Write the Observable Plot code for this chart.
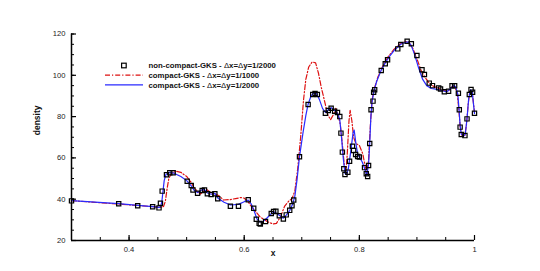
<!DOCTYPE html>
<html>
<head>
<meta charset="utf-8">
<script src="https://cdn.jsdelivr.net/npm/d3@7"></script>
<script src="https://cdn.jsdelivr.net/npm/@observablehq/plot@0.6"></script>
<style>
  html, body { margin: 0; padding: 0; background: #fff; }
  #wrap { position: relative; width: 540px; height: 271px; font-family: "Liberation Sans", Arial, sans-serif; }
  #legend { position: absolute; left: 0; top: 0; pointer-events: none; }
</style>
</head>
<body>
<div id="wrap"></div>
<script>
// ---- data ----
const squaresX = [0.300,0.382,0.415,0.441,0.452,0.4545,0.4575,0.465,0.4707,0.4766,0.501,0.508,0.511,0.519,0.527,0.531,0.536,0.5425,0.549,0.554,0.576,0.590,0.607,0.6165,0.621,0.626,0.628,0.637,0.647,0.651,0.655,0.661,0.668,0.673,0.679,0.683,0.686,0.696,0.711,0.719,0.723,0.727,0.741,0.746,0.751,0.757,0.762,0.766,0.768,0.7705,0.773,0.775,0.780,0.783,0.788,0.790,0.7935,0.797,0.800,0.809,0.812,0.8144,0.816,0.818,0.8203,0.8237,0.8248,0.8266,0.838,0.845,0.849,0.8667,0.872,0.883,0.8903,0.900,0.9088,0.913,0.9214,0.927,0.9378,0.941,0.9476,0.955,0.961,0.9655,0.972,0.9736,0.975,0.977,0.9834,0.987,0.991,0.994,0.9967,1.000];
const squaresY = [39.2,37.8,36.8,36.3,35.8,38.0,43.9,51.8,52.8,52.8,48.7,46.6,44.5,42.9,44.2,44.5,42.6,42.3,42.6,40.2,36.6,36.6,39.7,35.6,30.3,28.3,28.0,29.2,33.1,34.0,34.2,32.0,30.4,32.4,34.6,36.8,39.6,60.6,85.9,90.7,91.2,90.7,81.6,83.0,84.0,82.6,82.0,80.0,72.0,62.8,54.7,52.0,53.1,58.4,65.6,63.6,61.6,60.7,60.4,55.3,52.3,51.0,56.3,67.0,83.3,87.5,91.8,93.0,102.3,105.6,107.5,112.8,114.9,116.5,115.3,109.6,102.7,100.4,96.2,95.0,93.9,93.4,92.0,92.3,94.9,94.9,91.3,83.3,74.9,71.3,70.8,78.9,90.7,93.1,91.8,81.6];

const blueX = [0.300,0.382,0.415,0.441,0.452,0.455,0.457,0.459,0.461,0.464,0.470,0.478,0.490,0.500,0.508,0.513,0.519,0.526,0.531,0.536,0.543,0.549,0.555,0.565,0.576,0.590,0.600,0.607,0.612,0.617,0.622,0.627,0.633,0.640,0.647,0.652,0.657,0.661,0.668,0.673,0.679,0.684,0.688,0.692,0.696,0.702,0.707,0.711,0.716,0.721,0.726,0.731,0.736,0.741,0.746,0.751,0.757,0.762,0.766,0.769,0.772,0.775,0.778,0.781,0.785,0.789,0.791,0.794,0.797,0.800,0.805,0.809,0.813,0.816,0.818,0.820,0.822,0.825,0.830,0.838,0.845,0.852,0.862,0.872,0.880,0.885,0.890,0.896,0.903,0.910,0.917,0.925,0.935,0.945,0.952,0.958,0.963,0.967,0.971,0.973,0.975,0.977,0.981,0.984,0.987,0.990,0.993,0.996,1.000];
const blueY = [39.3,37.9,37.0,36.4,36.0,36.5,39,44,49,52,53.0,52.6,51.0,49.0,46.5,44.3,43.2,44.5,44.6,43.0,42.4,42.8,40.3,38.5,37.2,37.5,38.8,39.6,37.8,34.5,30.5,29.0,29.3,31.0,33.0,33.8,33.0,32.2,30.8,32.3,34.5,37.5,41.5,50,60.5,72,80.5,86,90,91.5,91,88,84,82,83.3,84.3,83,81.5,78.5,70,60,52.5,52,55,63,72,73.5,67,62,60.5,58,55,51.5,57,67,80,87,92,97,102.5,106,109,112.5,115,116,116.2,114.5,110,103.5,98,95,93.6,93.2,92.5,92.0,93.5,95.0,94.5,91,84,76,71.5,70.5,71.5,79,89,93,92,81.5];

const redX = [0.300,0.441,0.455,0.460,0.463,0.466,0.469,0.474,0.482,0.490,0.500,0.507,0.512,0.518,0.524,0.530,0.536,0.543,0.550,0.557,0.564,0.575,0.585,0.594,0.600,0.605,0.611,0.617,0.628,0.642,0.650,0.656,0.663,0.670,0.677,0.683,0.688,0.693,0.698,0.703,0.707,0.712,0.718,0.724,0.729,0.734,0.740,0.745,0.750,0.755,0.759,0.763,0.767,0.771,0.774,0.777,0.779,0.782,0.784,0.787,0.790,0.794,0.800,0.806,0.810,0.813,0.816,0.819,0.822,0.826,0.832,0.840,0.850,0.860,0.870,0.880,0.886,0.893,0.900,0.907,0.914,0.922,0.930,0.940,0.948,0.955,0.961,0.966,0.970,0.973,0.975,0.978,0.983,0.986,0.989,0.992,0.996,1.000];
const redY = [39.3,36.4,36.0,36.5,39,45,50,52.7,53.5,53,51,48.5,46,44,42.5,44,44.5,43,42.5,41.5,39.6,39.8,40.3,40.8,40.5,39.4,37,35,31.3,28.9,28,28.3,31.5,36.5,39,40.3,44,55,70,88,98,104,106.5,106,101,94,87,81,78.5,81,84,81,76,65,56,54,62,78,83,78,70,67,66,62,56,53,59,75,88,93.5,99,104,109,112.5,115,116.5,116,113,108,102.5,99,96,94.5,93.5,92.5,92.5,94.5,94.5,91,83,75,71,70.5,76,86,92.5,92,82];

const xMajor = [0.4, 0.6, 0.8, 1.0];
const xMinor = [0.3,0.35,0.4,0.45,0.5,0.55,0.6,0.65,0.7,0.75,0.8,0.85,0.9,0.95,1.0];
const yMajor = [20, 40, 60, 80, 100, 120];
const yMinor = d3.range(20, 121, 5);

const seriesNames = [
  "non-compact-GKS - \u0394x=\u0394y=1/2000",
  "compact-GKS - \u0394x=\u0394y=1/1000",
  "compact-GKS - \u0394x=\u0394y=1/2000"
];

// ---- tables ----
const squares = squaresX.map((x, i) => ({x, y: squaresY[i]}));
const blue = blueX.map((x, i) => ({x, y: blueY[i]}));
const red = redX.map((x, i) => ({x, y: redY[i]}));

const RED = "#dd1111", BLUE = "#2a2aff";
const fmt = d => d === 1 ? "1" : String(d);

const chart = Plot.plot({
  width: 540,
  height: 271,
  marginLeft: 71,
  marginRight: 66,
  marginTop: 33.5,
  marginBottom: 31,
  style: {fontFamily: "'Liberation Sans', Arial, sans-serif", background: "#fff", overflow: "visible"},
  x: {domain: [0.3, 1.0], axis: null},
  y: {domain: [20, 120], axis: null},
  marks: [
    Plot.lineY(red, {x: "x", y: "y", stroke: RED, strokeWidth: 1.2, strokeDasharray: "5,2,1.2,2"}),
    Plot.lineY(blue, {x: "x", y: "y", stroke: BLUE, strokeWidth: 1.2}),
    Plot.dot(squares, {x: "x", y: "y", symbol: "square", r: 2.4, stroke: "#000", strokeWidth: 1.2, fill: "none"}),
    // inward ticks
    Plot.axisX(xMinor, {anchor: "bottom", tickSize: -3, tickFormat: () => "", label: null, stroke: "#000", strokeWidth: 1}),
    Plot.axisX(xMajor, {anchor: "bottom", tickSize: -5, tickFormat: () => "", label: null, stroke: "#000", strokeWidth: 1.2}),
    Plot.axisY(yMinor, {anchor: "left", tickSize: -3, tickFormat: () => "", label: null, stroke: "#000", strokeWidth: 1}),
    Plot.axisY(yMajor, {anchor: "left", tickSize: -5, tickFormat: () => "", label: null, stroke: "#000", strokeWidth: 1.2}),
    // tick labels
    Plot.axisX(xMajor, {anchor: "bottom", tickSize: 0, tickPadding: 6, tickFormat: fmt, label: null, fontSize: 7.6, fill: "#222"}),
    Plot.axisY(yMajor, {anchor: "left", tickSize: 0, tickPadding: 6, tickFormat: fmt, label: null, fontSize: 7.6, fill: "#222"}),
    // axis lines
    Plot.ruleX([0.3], {stroke: "#000", strokeWidth: 1.5}),
    Plot.ruleY([20], {stroke: "#000", strokeWidth: 1.5}),
    // axis titles
    Plot.text(["x"], {frameAnchor: "bottom", dy: 15, text: d => d, fontSize: 8.5, fontWeight: "bold", fill: "#111"}),
    Plot.text(["density"], {frameAnchor: "left", dx: -34, dy: -2, rotate: -90, text: d => d, fontSize: 8.5, fontWeight: "bold", fill: "#111"})
  ]
});

const wrap = document.getElementById("wrap");
wrap.appendChild(chart);

// ---- legend overlay ----
const ns = "http://www.w3.org/2000/svg";
const leg = d3.select(wrap).append("svg")
  .attr("id", "legend").attr("width", 540).attr("height", 271)
  .attr("xmlns", ns);
const rows = [
  {y: 65.5, kind: "square"},
  {y: 75.2, kind: "red"},
  {y: 84.8, kind: "blue"}
];
rows.forEach((r, i) => {
  if (r.kind === "square") {
    leg.append("rect").attr("x", 121.6).attr("y", r.y - 2.3).attr("width", 4.6).attr("height", 4.6)
      .attr("fill", "none").attr("stroke", "#000").attr("stroke-width", 1.2);
  } else {
    leg.append("line").attr("x1", 105).attr("x2", 143).attr("y1", r.y).attr("y2", r.y)
      .attr("stroke", r.kind === "red" ? RED : BLUE).attr("stroke-width", 1.2)
      .attr("stroke-dasharray", r.kind === "red" ? "5,2,1.2,2" : null);
  }
  const t = leg.append("text").attr("x", 148.5).attr("y", r.y + 2.8)
    .attr("font-family", "'Liberation Sans', Arial, sans-serif").attr("font-size", 7.8)
    .attr("font-weight", "bold").attr("fill", "#111");
  const parts = seriesNames[i].split(/(\u0394)/);
  parts.forEach(p => {
    const s = t.append("tspan").text(p);
    if (p === "\u0394") s.attr("font-weight", "normal");
  });
});
</script>
</body>
</html>
